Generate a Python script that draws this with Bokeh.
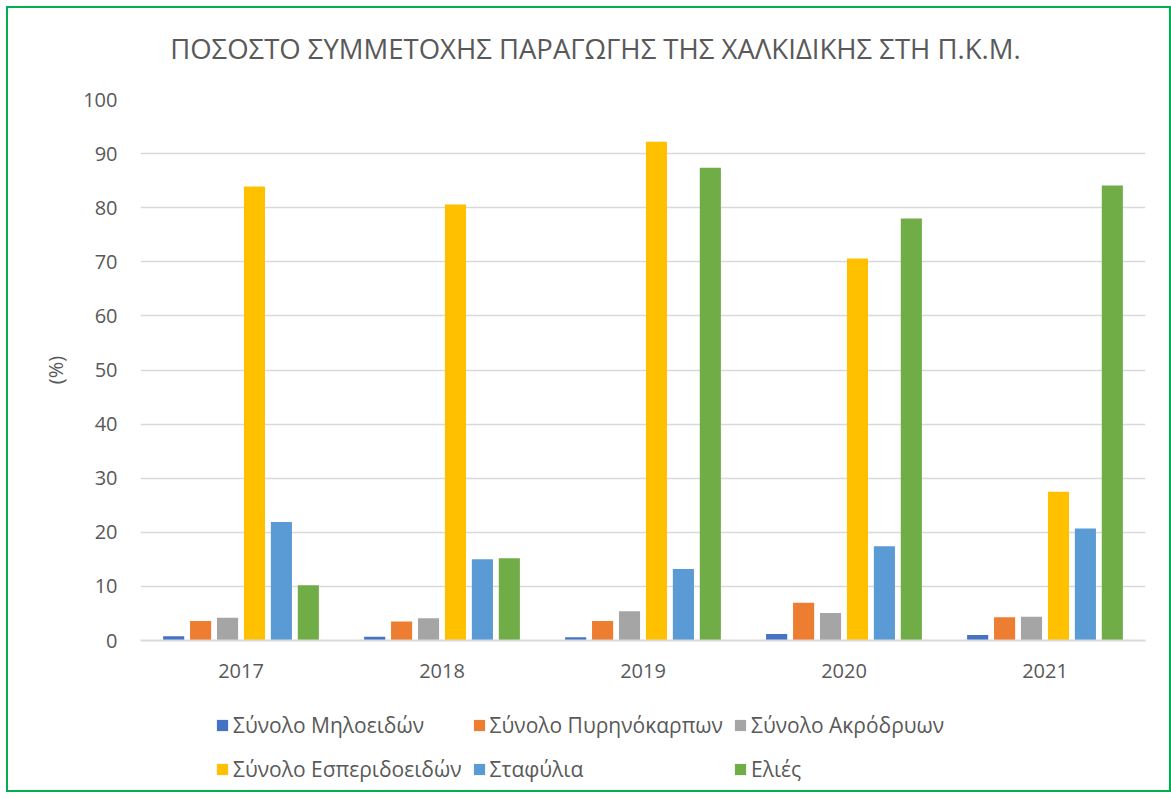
from bokeh.plotting import figure
from bokeh.models import ColumnDataSource, FactorRange, Range1d, Legend, LegendItem, FixedTicker, Column, Label
from bokeh.transform import dodge
from bokeh.embed import file_html
from bokeh.resources import INLINE

years = ["2017", "2018", "2019", "2020", "2021"]
series_names = ["Σύνολο Μηλοειδών", "Σύνολο Πυρηνόκαρπων", "Σύνολο Ακρόδρυων",
                "Σύνολο Εσπεριδοειδών", "Σταφύλια", "Ελιές"]
milo = [0.8, 0.7, 0.6, 1.2, 1.0]
pyrino = [3.6, 3.5, 3.6, 7.0, 4.3]
akrodrya = [4.2, 4.1, 5.4, 5.1, 4.4]
esperido = [83.9, 80.6, 92.2, 70.6, 27.5]
stafylia = [21.9, 15.0, 13.2, 17.4, 20.7]
elies = [10.2, 15.2, 87.4, 78.0, 84.1]
colors = ["#4472C4", "#ED7D31", "#A5A5A5", "#FFC000", "#5B9BD5", "#70AD47"]
title_text = "ΠΟΣΟΣΤΟ ΣΥΜΜΕΤΟΧΗΣ ΠΑΡΑΓΩΓΗΣ ΤΗΣ ΧΑΛΚΙΔΙΚΗΣ ΣΤΗ Π.Κ.Μ."
y_ticks = [0, 10, 20, 30, 40, 50, 60, 70, 80, 90, 100]

keys = ["s0", "s1", "s2", "s3", "s4", "s5"]
data = dict(years=years)
for k, vals in zip(keys, [milo, pyrino, akrodrya, esperido, stafylia, elies]):
    data[k] = vals
src = ColumnDataSource(data)

FONT = "Open Sans"
GREY = "#595959"
W = 1161


def strip(height, x_range, y_range):
    f = figure(x_range=x_range, y_range=y_range, width=W, height=height,
               output_backend="svg", toolbar_location=None,
               x_axis_location=None, y_axis_location=None,
               min_border_left=0, min_border_right=0, min_border_top=0, min_border_bottom=0)
    f.outline_line_color = None
    f.xgrid.grid_line_color = None
    f.ygrid.grid_line_color = None
    f.border_fill_color = "white"
    f.background_fill_color = "white"
    return f


# title strip above the chart
tf = strip(60, Range1d(0, 1), Range1d(0, 1))
tf.add_layout(Label(x=0.4527, y=0.34, text=title_text, text_font=FONT, text_font_size="27.5px",
                    text_color=GREY, text_align="center", text_baseline="middle"))

p = figure(x_range=FactorRange(*years, range_padding=0), y_range=(0, 100),
           width=W, height=630, output_backend="svg", toolbar_location=None,
           min_border_left=132, min_border_right=24, min_border_top=31, min_border_bottom=58)
p.outline_line_color = None
p.background_fill_color = "white"
p.border_fill_color = "white"

step = 0.134
for i, k in enumerate(keys):
    off = (i - 2.5) * step
    p.vbar(x=dodge("years", off, range=p.x_range), top=k, width=0.105, source=src,
           fill_color=colors[i], line_color=None)

p.yaxis.ticker = FixedTicker(ticks=y_ticks)
p.ygrid.grid_line_color = "#D9D9D9"
p.ygrid.grid_line_width = 1.3
p.xgrid.grid_line_color = None
p.yaxis.axis_line_color = None
p.yaxis.major_tick_line_color = None
p.yaxis.minor_tick_line_color = None
p.yaxis.major_label_text_font = FONT
p.yaxis.major_label_text_font_size = "20px"
p.yaxis.major_label_text_color = GREY
p.yaxis.major_label_standoff = 17
p.yaxis.axis_label = "(%)"
p.yaxis.axis_label_text_font = FONT
p.yaxis.axis_label_text_font_size = "20px"
p.yaxis.axis_label_text_font_style = "normal"
p.yaxis.axis_label_text_color = GREY
p.yaxis.axis_label_standoff = 11

p.xaxis.axis_line_color = "#D9D9D9"
p.xaxis.axis_line_width = 2
p.xaxis.major_tick_line_color = None
p.xaxis.minor_tick_line_color = None
p.xaxis.major_label_text_font = FONT
p.xaxis.major_label_text_font_size = "20px"
p.xaxis.major_label_text_color = GREY
p.xaxis.major_label_standoff = 17

# legend strip below the chart; its renderers use the same data but lie far outside its view
lg = strip(92, FactorRange(*years), Range1d(200, 201))
lg_renderers = []
for i, k in enumerate(keys):
    r = lg.vbar(x=dodge("years", (i - 2.5) * step, range=lg.x_range), top=k, bottom=k,
                width=0.105, source=src, fill_color=colors[i], line_color=None)
    lg_renderers.append(r)
items = [LegendItem(label=n, renderers=[r]) for n, r in zip(series_names, lg_renderers)]
legend = Legend(items=items, ncols=3, location=(75, 4), orientation="horizontal",
                glyph_width=14, glyph_height=14, label_standoff=4, spacing=10,
                label_height=34, label_text_font=FONT, label_text_font_size="21px",
                label_text_color=GREY, border_line_color=None, background_fill_alpha=0,
                padding=0, margin=0)
lg.add_layout(legend, "center")

layout = Column(children=[tf, p, lg], spacing=0,
                styles={"border": "2px solid #00B050", "margin": "6px 0 0 6px"})

open("out.html", "w").write(file_html(layout, INLINE))
